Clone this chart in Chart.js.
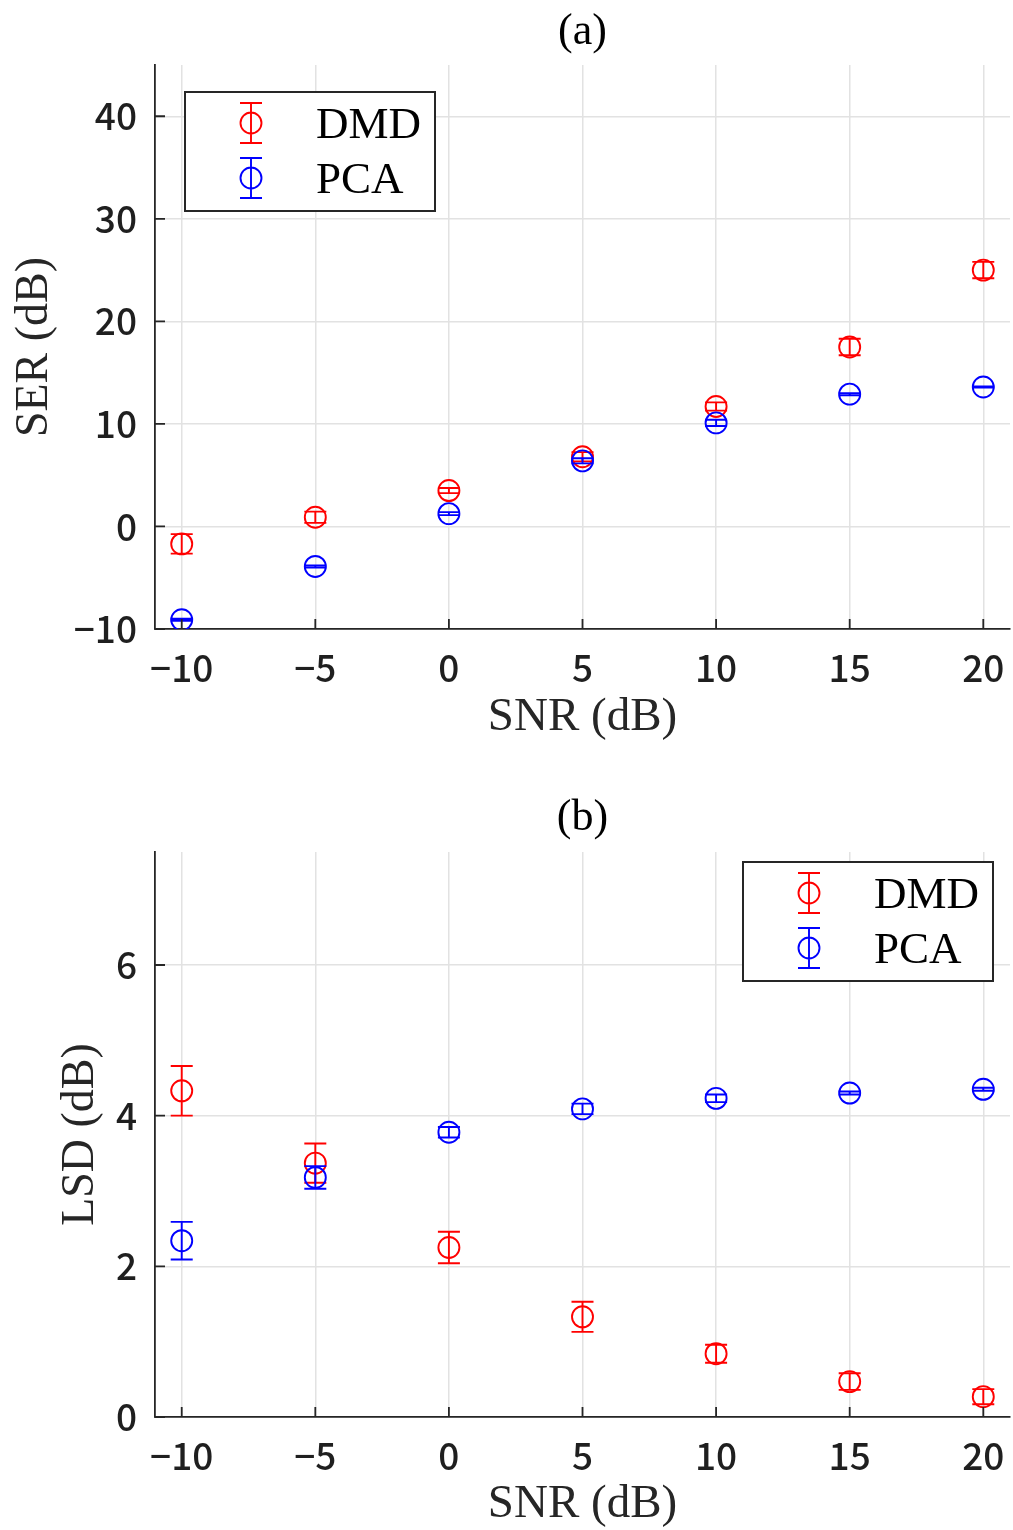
<!DOCTYPE html>
<html>
<head>
<meta charset="utf-8">
<script src="https://cdn.jsdelivr.net/npm/chart.js@4"></script>
<style>
  body { margin: 0; background: #fff; }
  canvas { display: block; }
</style>
</head>
<body>
<canvas id="serChart" width="1013" height="765"></canvas>
<canvas id="lsdChart" width="1013" height="765"></canvas>
<script>
// SNR values (x) shared by both panels
const snr = [-10, -5, 0, 5, 10, 15, 20];
const snrTicks = [-10, -5, 0, 5, 10, 15, 20];

// (a) SER
const serDmd = [-1.7, 0.9, 3.5, 6.8, 11.7, 17.5, 25.0];
const serDmdErr = [0.95, 0.55, 0.25, 0.45, 0.4, 0.8, 0.8];
const serPca = [-9.1, -3.9, 1.25, 6.4, 10.1, 12.9, 13.6];
const serPcaErr = [0.1, 0.1, 0.15, 0.25, 0.3, 0.1, 0.05];
const serTicks = [-10, 0, 10, 20, 30, 40];

// (b) LSD
const lsdDmd = [4.33, 3.37, 2.25, 1.33, 0.84, 0.47, 0.27];
const lsdDmdErr = [0.33, 0.26, 0.21, 0.2, 0.12, 0.11, 0.1];
const lsdPca = [2.34, 3.18, 3.78, 4.09, 4.23, 4.30, 4.35];
const lsdPcaErr = [0.25, 0.15, 0.07, 0.07, 0.05, 0.02, 0.02];
const lsdTicks = [0, 2, 4, 6];

const AXIS = '#262626';
const GRID = '#e2e2e2';
const SERIF = '"Liberation Serif", "DejaVu Serif", serif';
const SANS = '"Noto Sans CJK JP", "Noto Sans", sans-serif';

function fmt(v) {
    return v < 0 ? '\u2212' + Math.abs(v) : String(v);
}

// error bars drawn right after each dataset so PCA stays on top
const errorBars = {
    id: 'errorBars',
    afterDatasetDraw(chart, args) {
        const ds = chart.data.datasets[args.index];
        const xs = chart.scales.x, ys = chart.scales.y;
        const c = chart.ctx;
        c.save();
        c.strokeStyle = ds.borderColor;
        c.lineWidth = 1.9;
        ds.data.forEach((p, i) => {
            const px = xs.getPixelForValue(p.x);
            const lo = ys.getPixelForValue(p.y - ds.err[i]);
            const hi = ys.getPixelForValue(p.y + ds.err[i]);
            c.beginPath();
            c.moveTo(px, lo); c.lineTo(px, hi);
            c.moveTo(px - 11, lo); c.lineTo(px + 11, lo);
            c.moveTo(px - 11, hi); c.lineTo(px + 11, hi);
            c.stroke();
        });
        c.restore();
    }
};

// inward tick marks + boxed legend (matlab style)
const decor = {
    id: 'decor',
    afterDraw(chart, args, opts) {
        const c = chart.ctx;
        const a = chart.chartArea;
        const xs = chart.scales.x, ys = chart.scales.y;
        c.save();
        c.strokeStyle = AXIS;
        c.lineWidth = 1.8;
        c.beginPath();
        xs.ticks.forEach(t => {
            const px = xs.getPixelForValue(t.value);
            c.moveTo(px, a.bottom); c.lineTo(px, a.bottom - 10);
        });
        ys.ticks.forEach(t => {
            const py = ys.getPixelForValue(t.value);
            c.moveTo(a.left, py); c.lineTo(a.left + 10, py);
        });
        c.stroke();

        // legend box
        const w = 250, h = 119;
        const left = opts.corner === 'left' ? a.left + 30 : a.right - 17 - w;
        const top = opts.corner === 'left' ? a.top + 27 : a.top + 10;
        c.fillStyle = '#fff';
        c.fillRect(left, top, w, h);
        c.strokeStyle = AXIS;
        c.lineWidth = 2;
        c.strokeRect(left, top, w, h);

        const rows = [top + 31, top + 86];
        chart.data.datasets.forEach((ds, i) => {
            const cx = left + 66, cy = rows[i];
            c.strokeStyle = ds.borderColor;
            c.lineWidth = 1.9;
            c.beginPath();
            c.arc(cx, cy, 10.5, 0, Math.PI * 2);
            c.moveTo(cx, cy - 20); c.lineTo(cx, cy + 20);
            c.moveTo(cx - 11, cy - 20); c.lineTo(cx + 11, cy - 20);
            c.moveTo(cx - 11, cy + 20); c.lineTo(cx + 11, cy + 20);
            c.stroke();
            c.fillStyle = '#000';
            c.font = '45px ' + SERIF;
            c.textBaseline = 'alphabetic';
            c.textAlign = 'left';
            c.fillText(ds.label, left + 131, cy + 15);
        });
        c.restore();
    }
};

function series(label, ys, err, color, order) {
    return {
        label: label,
        data: snr.map((x, i) => ({ x: x, y: ys[i] })),
        err: err,
        borderColor: color,
        backgroundColor: 'rgba(0,0,0,0)',
        pointRadius: 10.5,
        pointHoverRadius: 10.5,
        pointBorderWidth: 1.9,
        showLine: false,
        order: order
    };
}

function makeChart(id, cfg) {
    return new Chart(document.getElementById(id), {
        type: 'scatter',
        data: {
            datasets: [
                series('DMD', cfg.dmd, cfg.dmdErr, '#ff0000', 1),
                series('PCA', cfg.pca, cfg.pcaErr, '#0000ff', 0)
            ]
        },
        options: {
            responsive: false,
            animation: false,
            devicePixelRatio: 1,
            events: [],
            layout: { autoPadding: false, padding: { left: 0, right: 3, top: 0, bottom: 0 } },
            plugins: {
                legend: { display: false },
                tooltip: { enabled: false },
                title: {
                    display: true,
                    fullSize: false,
                    text: cfg.title,
                    color: '#000',
                    font: { family: SERIF, size: 44, lineHeight: 1, weight: 'normal' },
                    padding: { top: cfg.titleTop, bottom: cfg.titleBottom }
                },
                decor: { corner: cfg.legendCorner }
            },
            scales: {
                x: {
                    type: 'linear',
                    min: -11,
                    max: 21,
                    afterBuildTicks: s => { s.ticks = snrTicks.map(v => ({ value: v })); },
                    afterFit: s => { s.height = cfg.xHeight; },
                    // invisible tick marks give the label gap without side padding
                    grid: { color: GRID, lineWidth: 1.5, drawTicks: true, tickLength: 17, tickColor: 'rgba(0,0,0,0)' },
                    border: { color: AXIS, width: 1.8 },
                    ticks: {
                        color: '#1f1f1f',
                        padding: 0,
                        maxRotation: 0,
                        font: { family: SANS, size: 37, weight: '500' },
                        callback: v => fmt(v)
                    },
                    title: {
                        display: true,
                        text: 'SNR (dB)',
                        color: AXIS,
                        font: { family: SERIF, size: 47, lineHeight: 1 },
                        padding: { top: 0, bottom: cfg.xTitlePad }
                    }
                },
                y: {
                    min: cfg.yMin,
                    max: cfg.yMax,
                    afterBuildTicks: s => { s.ticks = cfg.yTicks.map(v => ({ value: v })); },
                    afterFit: s => { s.width = 155; },
                    grid: { color: GRID, lineWidth: 1.5, drawTicks: false },
                    border: { color: AXIS, width: 1.8 },
                    ticks: {
                        color: '#1f1f1f',
                        padding: 18,
                        font: { family: SANS, size: 37, weight: '500' },
                        callback: v => fmt(v)
                    },
                    title: {
                        display: true,
                        text: cfg.yLabel,
                        color: AXIS,
                        font: { family: SERIF, size: 46, lineHeight: 1 },
                        padding: { top: cfg.yTitlePad, bottom: 0 }
                    }
                }
            }
        },
        plugins: [errorBars, decor]
    });
}

makeChart('serChart', {
    title: '(a)', titleTop: 10, titleBottom: 11,
    dmd: serDmd, dmdErr: serDmdErr, pca: serPca, pcaErr: serPcaErr,
    yMin: -10, yMax: 45, yTicks: serTicks, yLabel: 'SER (dB)', yTitlePad: 12,
    xHeight: 136, xTitlePad: 24, legendCorner: 'left'
});

makeChart('lsdChart', {
    title: '(b)', titleTop: 31, titleBottom: 12,
    dmd: lsdDmd, dmdErr: lsdDmdErr, pca: lsdPca, pcaErr: lsdPcaErr,
    yMin: 0, yMax: 7.5, yTicks: lsdTicks, yLabel: 'LSD (dB)', yTitlePad: 58,
    xHeight: 113, xTitlePad: 2, legendCorner: 'right'
});
</script>
</body>
</html>
